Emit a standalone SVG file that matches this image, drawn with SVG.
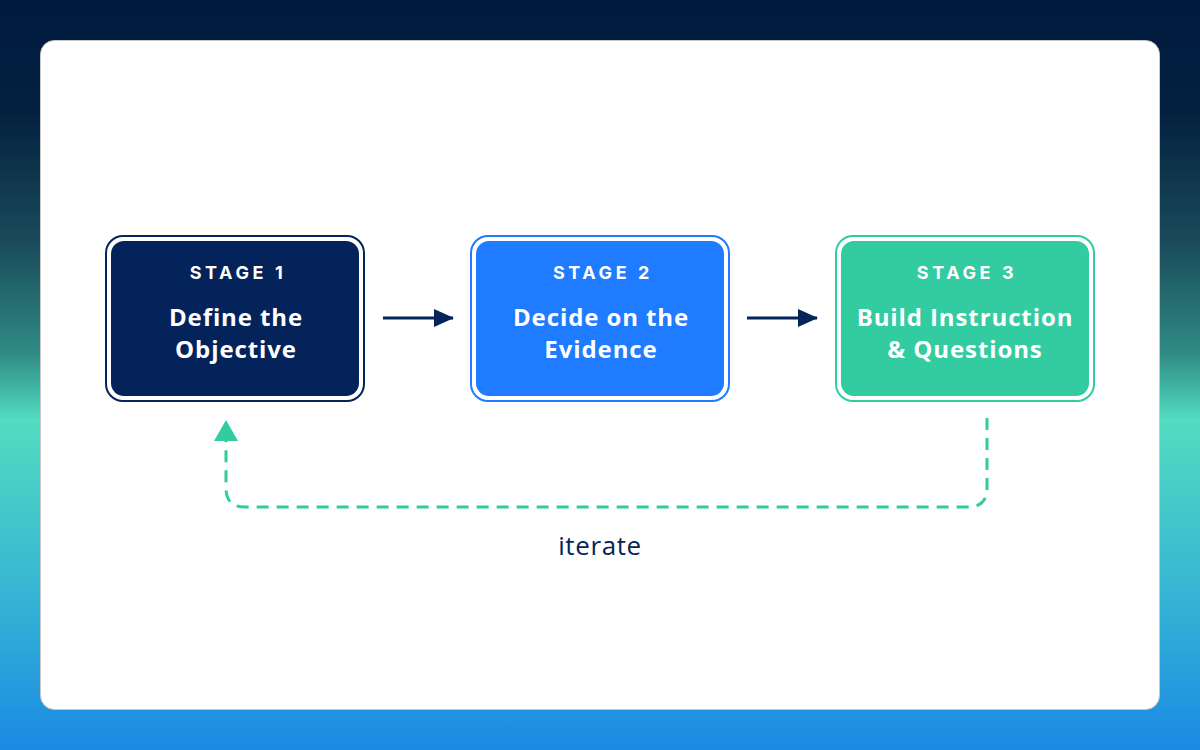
<svg xmlns="http://www.w3.org/2000/svg" width="1200" height="750" viewBox="0 0 1200 750">
<defs>
<linearGradient id="bg" x1="0" y1="0" x2="0" y2="1">
<stop offset="0" stop-color="#001a3f"/>
<stop offset="0.15" stop-color="#03213f"/>
<stop offset="0.32" stop-color="#1a4a5a"/>
<stop offset="0.47" stop-color="#2f8a84"/>
<stop offset="0.56" stop-color="#52dcc0"/>
<stop offset="0.75" stop-color="#3cbcd0"/>
<stop offset="1" stop-color="#1a8ae4"/>
</linearGradient>
<marker id="ah" viewBox="0 0 20 20" refX="19" refY="10" markerWidth="20" markerHeight="20" markerUnits="userSpaceOnUse" orient="auto"><path d="M0,1 L20,10 L0,19 z" fill="#04245a"/></marker>
<style>
.stage{font-family:Inter,"Open Sans",sans-serif;font-weight:700;font-size:18px;letter-spacing:3.6px;fill:#fff;text-anchor:middle}
.title{font-family:"Open Sans",sans-serif;font-weight:700;font-size:24px;letter-spacing:0.9px;fill:#fff;text-anchor:middle}
.conn{stroke:#04245a;stroke-width:3;fill:none}
</style>
</defs>
<rect width="1200" height="750" fill="url(#bg)"/>
<rect x="40.5" y="40.5" width="1119" height="669" rx="14" fill="#fff" stroke="#c8c8c8"/>
<g id="node1">
<rect x="106" y="236" width="258" height="165" rx="17" fill="none" stroke="#04245a" stroke-width="2"/>
<rect x="111" y="241" width="248" height="155" rx="13" fill="#03235a"/>
<text class="stage" x="238" y="279">STAGE 1</text>
<text class="title" x="236" y="326">Define the</text>
<text class="title" x="236" y="358">Objective</text>
</g>
<g id="node2">
<rect x="471" y="236" width="258" height="165" rx="17" fill="none" stroke="#1f7bff" stroke-width="2"/>
<rect x="476" y="241" width="248" height="155" rx="13" fill="#1f7bff"/>
<text class="stage" x="603" y="279">STAGE 2</text>
<text class="title" x="601" y="326">Decide on the</text>
<text class="title" x="601" y="358">Evidence</text>
</g>
<g id="node3">
<rect x="836" y="236" width="258" height="165" rx="17" fill="none" stroke="#35cba0" stroke-width="2"/>
<rect x="841" y="241" width="248" height="155" rx="13" fill="#33cba0"/>
<text class="stage" x="967" y="279">STAGE 3</text>
<text class="title" x="965" y="326">Build Instruction</text>
<text class="title" x="965" y="358">&amp; Questions</text>
</g>
<g id="connectors">
<line class="conn" x1="383" y1="318" x2="453" y2="318" marker-end="url(#ah)"/>
<line class="conn" x1="747" y1="318" x2="817" y2="318" marker-end="url(#ah)"/>
<path d="M987,418 V488 Q987,507 968,507 H245 Q226,507 226,488 V440" fill="none" stroke="#33cba0" stroke-width="3" stroke-dasharray="12 8"/>
<path d="M214,441 L226,420 L238,441 z" fill="#33cba0"/>
<text x="600" y="555" font-family="'Open Sans',sans-serif" font-weight="500" font-size="26" letter-spacing="0.6" fill="#04245a" text-anchor="middle">iterate</text>
</g>
</svg>
